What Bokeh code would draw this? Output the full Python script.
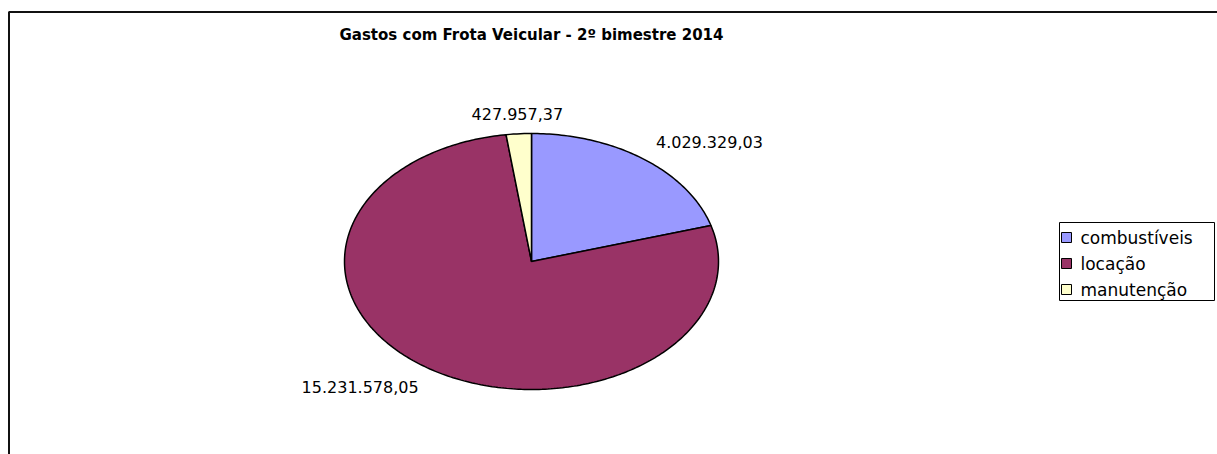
import numpy as np
from bokeh.plotting import figure
from bokeh.models import Range1d
from bokeh.core.properties import value
from bokeh.embed import file_html
from bokeh.resources import INLINE

# ---- data ----
title_text = "Gastos com Frota Veicular - 2º bimestre 2014"
categories = ["combustíveis", "locação", "manutenção"]
values = [4029329.03, 15231578.05, 427957.37]
colors = ["#9999FF", "#993366", "#FFFFCC"]

def br_fmt(v):
    s = f"{v:,.2f}"
    return s.replace(",", "#").replace(".", ",").replace("#", ".")

labels = [br_fmt(v) for v in values]

# ---- layout (page pixel coordinates) ----
W, H = 1217, 454
p = figure(width=W, height=H, output_backend="svg", toolbar_location=None,
           x_range=Range1d(0, W), y_range=Range1d(H, 0),
           x_axis_type=None, y_axis_type=None, min_border=0)
p.grid.visible = False
p.outline_line_color = None
p.background_fill_color = "white"
p.border_fill_color = "white"

FONT = value("DejaVu Sans")

# chart border (extends beyond the visible page on right and bottom)
p.line([8.5, 8.5, W + 5], [H + 5, 11.5, 11.5], line_color="#111111", line_width=2)

# title
p.text(x=[531], y=[34], text=[title_text], text_font=FONT, text_font_style="bold",
       text_font_size=value("15px"), text_align="center", text_baseline="middle",
       text_color="black")

# pie (ellipse, clockwise from 12 o'clock)
cx, cy, rx, ry = 531, 261, 187, 128
vals = np.array(values, dtype=float)
frac = vals / vals.sum()
ends = np.cumsum(frac) * 2 * np.pi
starts = ends - frac * 2 * np.pi
xs, ys = [], []
for a0, a1 in zip(starts, ends):
    t = np.linspace(a0, a1, max(int((a1 - a0) / (2 * np.pi) * 400), 4))
    xs.append([cx] + list(cx + rx * np.sin(t)) + [cx])
    ys.append([cy] + list(cy - ry * np.cos(t)) + [cy])
p.patches(xs, ys, fill_color=colors, line_color="black", line_width=1.5)

# data labels outside the slices
k = 1.11
mid = (starts + ends) / 2
for lab, m in zip(labels, mid):
    s, c = np.sin(m), np.cos(m)
    lx, ly = cx + k * rx * s, cy - k * ry * c
    align = "left" if s > 0.3 else ("right" if s < -0.3 else "center")
    base = "bottom" if c > 0 else "top"
    p.text(x=[lx], y=[ly], text=[lab], text_font=FONT, text_font_size=value("16px"),
           text_align=align, text_baseline=base, text_color="black")

# legend (manual)
lx0, lx1, ly0, ly1 = 1059, 1214, 222, 300
p.quad(left=[lx0], right=[lx1], top=[ly0], bottom=[ly1], fill_color="white",
       line_color="black", line_width=1)
row_y = [237, 263, 289]
p.scatter(x=[1066] * len(categories), y=row_y, marker="square", size=10,
          fill_color=colors, line_color="black", line_width=1)
p.text(x=[1080] * len(categories), y=row_y, text=categories, text_font=FONT,
       text_font_size=value("17px"), text_align="left", text_baseline="middle",
       text_color="black")

open("out.html", "w").write(file_html(p, INLINE))
